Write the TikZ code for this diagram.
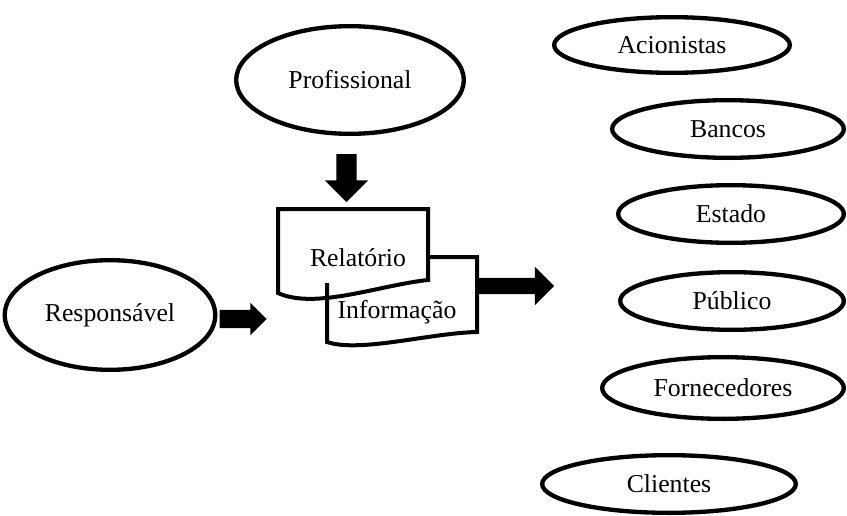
\documentclass[tikz,border=0pt]{standalone}
\usepackage{fontspec}
\setmainfont{Liberation Serif}
\usetikzlibrary{shapes.geometric, shapes.arrows, positioning}

\begin{document}
\begin{tikzpicture}[
    x=0.3mm, y=-0.3mm,
    party/.style={ellipse, draw, line width=1.3mm, inner sep=0pt,
                  font=\fontsize{22}{26}\selectfont},
    blockarrow/.style={single arrow, fill=black, inner xsep=0pt,
                  single arrow tip angle=90},
    doc/.style={draw, line width=1.2mm, fill=white, line join=miter},
    doctext/.style={font=\fontsize{22}{26}\selectfont}
]
    \useasboundingbox (0,0) rectangle (847,516);

    % who writes the report
    \node[party, minimum width=68.3mm, minimum height=32.3mm] (prof) at (350,80) {Profissional};
    \node[party, minimum width=63.2mm, minimum height=32.9mm] (resp) at (110,315) {Responsável};

    % the two documents
    \draw[doc] (278,209) -- (428,209) -- (428,280)
        .. controls (380,285) and (315,310) .. (278,293) -- cycle;
    \draw[doc, fill=none] (428,257) -- (477,257) -- (477,332)
        .. controls (430,333) and (360,353) .. (327,342) -- (327,283);
    \node[doctext] (rel) at (358,258) {Relatório};
    \node[doctext] (info) at (397,312) {Informação};

    % block arrows
    \node[blockarrow, minimum height=14.4mm, inner ysep=3mm,
          single arrow head extend=3.45mm, rotate=-90] (arrProf) at (346.5,173) {};
    \node[blockarrow, minimum height=14.1mm, inner ysep=2.7mm,
          single arrow head extend=2.1mm] (arrResp) at (238.5,319) {};
    \node[blockarrow, minimum height=22.5mm, inner ysep=2.4mm,
          single arrow head extend=3.3mm] (arrOut) at (512.5,286) {};

    % users of the information
    \node[party, minimum width=70.7mm, minimum height=16.7mm] (acio) at (672,45) {Acionistas};
    \node[party, minimum width=69.5mm, minimum height=17.3mm] (banc) at (728,129) {Bancos};
    \node[party, minimum width=67.7mm, minimum height=17.3mm] (esta) at (731,214) {Estado};
    \node[party, minimum width=67.1mm, minimum height=17.3mm] (publ) at (732,301) {Público};
    \node[party, minimum width=72.5mm, minimum height=18.5mm] (forn) at (723,388) {Fornecedores};
    \node[party, minimum width=76.1mm, minimum height=17.3mm] (clie) at (669,484) {Clientes};
\end{tikzpicture}
\end{document}
